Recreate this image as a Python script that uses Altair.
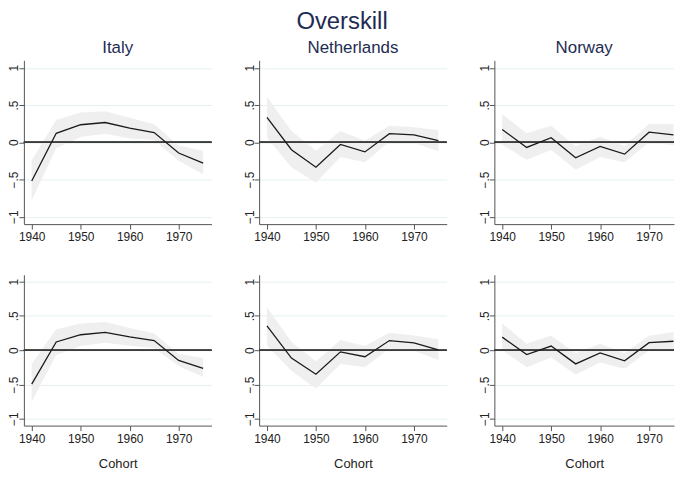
import altair as alt
import pandas as pd

cohorts = [1940, 1945, 1950, 1955, 1960, 1965, 1970, 1975]
countries = ["Italy", "Netherlands", "Norway"]

# Row 1
italy_1_est = [-0.52, 0.12, 0.235, 0.265, 0.19, 0.13, -0.145, -0.28]
italy_1_hi = [-0.245, 0.30, 0.40, 0.415, 0.33, 0.24, -0.045, -0.115]
italy_1_lo = [-0.78, -0.08, 0.07, 0.115, 0.05, 0.03, -0.25, -0.43]
neth_1_est = [0.335, -0.10, -0.335, -0.03, -0.13, 0.115, 0.10, 0.02]
neth_1_hi = [0.61, 0.15, -0.115, 0.15, 0.02, 0.22, 0.20, 0.165]
neth_1_lo = [0.06, -0.335, -0.54, -0.2, -0.27, 0.01, -0.01, -0.12]
norw_1_est = [0.17, -0.07, 0.06, -0.21, -0.055, -0.16, 0.135, 0.10]
norw_1_hi = [0.375, 0.12, 0.22, -0.055, 0.075, -0.05, 0.245, 0.245]
norw_1_lo = [-0.035, -0.235, -0.105, -0.37, -0.2, -0.27, 0.0, -0.04]

# Row 2
italy_2_est = [-0.495, 0.12, 0.225, 0.26, 0.195, 0.14, -0.15, -0.265]
italy_2_hi = [-0.2, 0.305, 0.39, 0.41, 0.325, 0.245, -0.055, -0.115]
italy_2_lo = [-0.75, -0.07, 0.06, 0.11, 0.065, 0.03, -0.23, -0.39]
neth_2_est = [0.355, -0.115, -0.35, -0.025, -0.095, 0.14, 0.105, 0.005]
neth_2_hi = [0.625, 0.12, -0.16, 0.15, 0.06, 0.255, 0.215, 0.16]
neth_2_lo = [0.07, -0.3, -0.56, -0.2, -0.25, 0.025, -0.01, -0.145]
norw_2_est = [0.19, -0.065, 0.06, -0.2, -0.04, -0.155, 0.11, 0.13]
norw_2_hi = [0.39, 0.095, 0.215, -0.045, 0.095, -0.045, 0.21, 0.265]
norw_2_lo = [0.0, -0.25, -0.105, -0.355, -0.18, -0.27, 0.0, 0.0]

series = {
    (1, "Italy"): (italy_1_est, italy_1_lo, italy_1_hi),
    (1, "Netherlands"): (neth_1_est, neth_1_lo, neth_1_hi),
    (1, "Norway"): (norw_1_est, norw_1_lo, norw_1_hi),
    (2, "Italy"): (italy_2_est, italy_2_lo, italy_2_hi),
    (2, "Netherlands"): (neth_2_est, neth_2_lo, neth_2_hi),
    (2, "Norway"): (norw_2_est, norw_2_lo, norw_2_hi),
}

FONT = "Liberation Sans"
NAVY = "#1e2b52"

# the right-hand panel is clipped at the page edge in the original
x_end = {"Italy": 1976.7, "Netherlands": 1976.7, "Norway": 1975.1}
widths = {"Italy": 189, "Netherlands": 189, "Norway": 181}
yscale = alt.Scale(domain=[-1.1, 1.1], nice=False)


def panel(row, country, height):
    est, lo, hi = series[(row, country)]
    df = pd.DataFrame({"cohort": cohorts, "est": est, "lo": lo, "hi": hi,
                       "zero": [0.0] * len(cohorts)})
    xscale = alt.Scale(domain=[1938.4, x_end[country]], nice=False, zero=False)
    base = alt.Chart(df)
    xaxis = alt.Axis(
        values=[1940, 1950, 1960, 1970], format="d", grid=False,
        title="Cohort" if row == 2 else None, titlePadding=13, labelPadding=3,
    )
    yaxis = alt.Axis(
        values=[-1, -0.5, 0, 0.5, 1],
        labelExpr="replace(format(datum.value, '~g'), '0.', '.')",
        labelAngle=270, labelAlign="center", labelBaseline="alphabetic",
        labelPadding=1, labelOverlap=False,
        title=None, grid=True,
    )
    band = base.mark_area(color="#efefef", opacity=1).encode(
        x=alt.X("cohort:Q", scale=xscale, axis=xaxis),
        y=alt.Y("lo:Q", scale=yscale, axis=yaxis),
        y2="hi:Q",
    )
    zero = base.mark_rule(color="#3c3c3c", strokeWidth=1.1).encode(
        y=alt.Y("zero:Q", scale=yscale, axis=yaxis)
    )
    line = base.mark_line(color="#1a1a1a", strokeWidth=1.3).encode(
        x=alt.X("cohort:Q", scale=xscale, axis=xaxis),
        y=alt.Y("est:Q", scale=yscale, axis=yaxis),
    )
    ch = alt.layer(band, zero, line).properties(width=widths[country], height=height)
    if row == 1:
        ch = ch.properties(title=alt.TitleParams(country, fontSize=17, color=NAVY,
                                                 font=FONT, fontWeight="normal",
                                                 offset=3))
    return ch


row1 = alt.hconcat(*[panel(1, c, 165) for c in countries], spacing=31)
row2 = alt.hconcat(*[panel(2, c, 152) for c in countries], spacing=31)

chart = alt.vconcat(row1, row2, spacing=32).properties(
    title=alt.TitleParams("Overskill", fontSize=24, color=NAVY, font=FONT,
                          fontWeight="normal", anchor="middle", offset=6),
    padding={"left": 0, "top": 0, "right": 0, "bottom": 0},
).configure_view(stroke=None).configure_axis(
    labelFont=FONT, titleFont=FONT, labelFontSize=12, titleFontSize=13,
    labelColor="#222222", titleColor="#222222", titleFontWeight="normal",
    domainColor="#555555", tickColor="#555555", tickSize=5, labelPadding=2,
    gridColor="#e6f0f0", gridWidth=1, labelOverlap=False,
)

chart.save("out.html", embed_options={"renderer": "svg", "actions": False})
